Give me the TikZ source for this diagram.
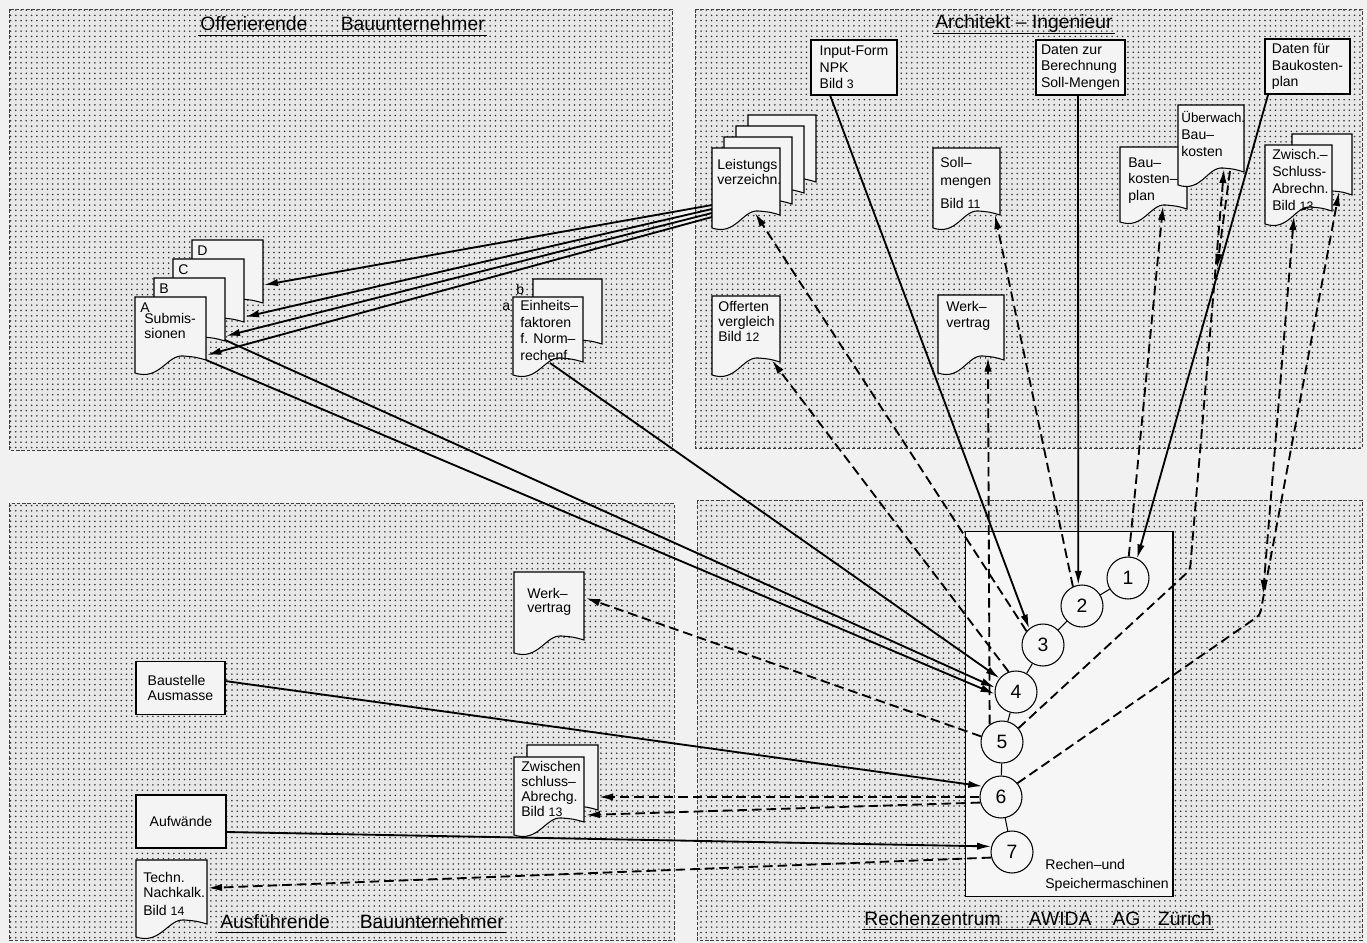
\documentclass[tikz,border=0pt]{standalone}
\usepackage{fontspec}
\setmainfont{Liberation Sans}
\usetikzlibrary{arrows.meta,patterns}
\newcommand\docsheet[4]{%
  \filldraw[docline] (#1,#2) -- (#3,#2) -- (#3,#4-13)
    .. controls ({#1+0.85*(#3-#1)},#4-16) .. ({#1+0.68*(#3-#1)},#4-17)
    .. controls ({#1+0.45*(#3-#1)},#4-18.5) and ({#1+0.35*(#3-#1)},#4+8) .. (#1,#4) -- cycle;}
\tikzset{
  >={Latex[length=8pt,width=4.2pt]},
  docline/.style={fill=gray!9, draw=black, line width=0.6pt},
  doctext/.style={anchor=north west, inner sep=0pt, align=left, font=\fontsize{8}{9.4}\selectfont},
  rectbox/.style={draw=black, fill=gray!9, line width=0.6pt, align=left, inner sep=0pt, font=\fontsize{8}{9.4}\selectfont},
  circ/.style={circle, draw=black, fill=gray!7, line width=0.6pt, minimum size=0.84cm, inner sep=0pt, font=\fontsize{11}{13}\selectfont},
  titletext/.style={anchor=base west, inner sep=0pt, font=\fontsize{11}{13}\selectfont},
  uline/.style={line width=0.7pt},
  panel/.style={draw=black!75, line width=0.5pt, dash pattern=on 2pt off 1pt},
  sline/.style={line width=1.05pt, ->},
  dline/.style={line width=1.05pt, dash pattern=on 5.5pt off 2.8pt, ->},
  link/.style={line width=0.6pt},
}
\begin{document}
\begin{tikzpicture}[x=0.02cm,y=-0.02cm]
\useasboundingbox (0,0) rectangle (1367,943);
\fill[gray!11] (0,0) rectangle (1367,943);
% panels
\foreach \xa/\ya/\xb/\yb in {9/9/672/450,695/9/1362/448,9/503/674/940,697/500/1362/940}{
  \fill[gray!18] (\xa,\ya) rectangle (\xb,\yb);
  \fill[pattern=dots,pattern color=black!80] (\xa,\ya) rectangle (\xb,\yb);
  \draw[panel] (\xa,\ya) rectangle (\xb,\yb);
}
% titles
\node[titletext] (t1) at (200,31) {Offerierende\hspace{19pt}Bauunternehmer};
\draw[uline] ([xshift=-1pt,yshift=-2.6pt]t1.base west) -- ([xshift=1pt,yshift=-2.6pt]t1.base east);
\node[titletext] (t2) at (935,29) {Architekt – Ingenieur};
\draw[uline] ([xshift=-1pt,yshift=-2.6pt]t2.base west) -- ([xshift=1pt,yshift=-2.6pt]t2.base east);
\node[titletext] (t3) at (220,928) {Ausführende\hspace{17pt}Bauunternehmer};
\draw[uline] ([xshift=-1pt,yshift=-2.6pt]t3.base west) -- ([xshift=1pt,yshift=-2.6pt]t3.base east);
\node[titletext] (t4) at (864,925) {Rechenzentrum\hspace{16pt}AWIDA\hspace{12pt}AG\hspace{10pt}Zürich};
\draw[uline] ([xshift=-1pt,yshift=-2.6pt]t4.base west) -- ([xshift=1pt,yshift=-2.6pt]t4.base east);

% ---------- top left: Submissionen stack
\docsheet{192}{240}{263}{316}
\node[doctext] (subD) at (197,245) {D};
\docsheet{173}{259}{244}{335}
\node[doctext] (subC) at (178,264) {C};
\docsheet{154}{278}{225}{354}
\node[doctext] (subB) at (159,283) {B};
\docsheet{135}{297}{206}{373}
\node[doctext] (subAl) at (140,302) {A};
\node[doctext, font=\fontsize{8}{8.5}\selectfont] (subA) at (144,313) {Submis-\\sionen};
% Einheitsfaktoren
\docsheet{533}{279}{602}{357}
\node[doctext] (einb) at (516,284) {b};
\docsheet{513}{297}{583}{375}
\node[doctext] (eina) at (502,303) {a};
\node[doctext, font=\fontsize{8}{9.5}\selectfont] (ein) at (520,300) {Einheits–\\faktoren\\f. Norm–\\rechenf.};

% ---------- top right
\node[rectbox, minimum width=1.72cm, minimum height=1.1cm] (inf) at (854,67.5) {Input-Form\\NPK\\Bild {\fontsize{7}{8}\selectfont 3}};
\node[rectbox, minimum width=1.78cm, minimum height=1.1cm] (dzb) at (1080.5,67.5) {Daten zur\\Berechnung\\Soll-Mengen};
\node[rectbox, minimum width=1.7cm, minimum height=1.1cm] (dfb) at (1307.5,66.5) {Daten für\\Baukosten-\\plan};
% Leistungsverzeichnis stack
\docsheet{748}{115}{816}{195}
\docsheet{736}{126}{804}{206}
\docsheet{724}{137}{792}{217}
\docsheet{712}{148}{780}{228}
\node[doctext, font=\fontsize{8}{8.5}\selectfont] (lv) at (717,159) {Leistungs\\verzeichn.};
% Soll-mengen
\docsheet{933}{148}{1000}{228}
\node[doctext, font=\fontsize{8}{10.2}\selectfont] (soll) at (940,157) {Soll–\\mengen\\[2.8pt]Bild {\fontsize{7}{8}\selectfont 11}};
% Baukostenplan and Ueberwachung
\docsheet{1120}{147}{1187}{222}
\node[doctext, font=\fontsize{8}{9.6}\selectfont] (bkp) at (1128,157) {Bau–\\kosten–\\plan};
\docsheet{1178}{105}{1244}{185}
\node[doctext, font=\fontsize{8}{9.6}\selectfont] (ueb) at (1181,111) {{\fontsize{7.6}{9}\selectfont Überwach.}\\Bau–\\kosten};
% Zwischen-Schluss TR
\docsheet{1292}{134}{1352}{208}
\docsheet{1265}{145}{1332}{224}
\node[doctext, font=\fontsize{8}{9.6}\selectfont] (zwt) at (1272,149) {Zwisch.–\\Schluss-\\Abrechn.\\Bild {\fontsize{7}{8}\selectfont 13}};
% Offerten
\docsheet{712}{296}{780}{375}
\node[doctext, font=\fontsize{8}{8.6}\selectfont] (off) at (718,301) {Offerten\\vergleich\\Bild {\fontsize{7}{8}\selectfont 12}};
% Werkvertrag TR
\docsheet{938}{295}{1004}{373}
\node[doctext, font=\fontsize{8}{9}\selectfont] (wvt) at (946,301) {Werk–\\vertrag};

% ---------- bottom left
\docsheet{514}{572}{584}{653}
\node[doctext, font=\fontsize{8}{8.2}\selectfont] (wvb) at (527,588) {Werk–\\vertrag};
\docsheet{527}{745}{598}{823}
\docsheet{514}{757}{584}{835}
\node[doctext, font=\fontsize{8}{8.5}\selectfont] (zwb) at (521,761) {Zwischen\\schluss–\\Abrechg.\\Bild {\fontsize{7}{8}\selectfont 13}};
\node[rectbox, font=\fontsize{8}{8.6}\selectfont, minimum width=1.78cm, minimum height=1.06cm] (bau) at (180.5,688) {Baustelle\\Ausmasse};
\node[rectbox, minimum width=1.8cm, minimum height=1.06cm] (auf) at (181,821.5) {Aufwände};
\docsheet{136}{860}{207}{937}
\node[doctext, font=\fontsize{8}{8.5}\selectfont] (tnk) at (143,872) {Techn.\\Nachkalk.\\[2pt]Bild {\fontsize{7}{8}\selectfont 14}};

% ---------- Rechenzentrum
\node[draw=black, fill=gray!7, line width=0.6pt, minimum width=4.16cm, minimum height=7.32cm, inner sep=0pt] (rz) at (1069,714) {};
\node[doctext, font=\fontsize{8}{10.8}\selectfont] (rzt) at (1045,859) {Rechen–und\\Speichermaschinen};
\node[circ] (c1) at (1128,578) {1};
\node[circ] (c2) at (1082,606) {2};
\node[circ] (c3) at (1043,645) {3};
\node[circ] (c4) at (1016,692) {4};
\node[circ] (c5) at (1002,742) {5};
\node[circ] (c6) at (1001,797) {6};
\node[circ] (c7) at (1012,852) {7};
\draw[link] (c1) -- (c2);
\draw[link] (c2) -- (c3);
\draw[link] (c3) -- (c4);
\draw[link] (c4) -- (c5);
\draw[link] (c5) -- (c6);
\draw[link] (c6) -- (c7);

% ---------- connection points
\coordinate (lvA) at (712,205);
\coordinate (lvB) at (712,209);
\coordinate (lvC) at (712,213);
\coordinate (lvD) at (712,217);
\coordinate (subD-in) at (264,285);
\coordinate (subC-in) at (245,317);
\coordinate (subB-in) at (226,336);
\coordinate (subA-in) at (207,355);
\coordinate (subA-out) at (206,360);
\coordinate (subB-out) at (225,340);
\coordinate (ein-out) at (550,363);
\coordinate (inf-out) at (830,95);
\coordinate (dzb-out) at (1078,95);
\coordinate (dfb-out) at (1268,95);
\coordinate (lv-in) at (755,213);
\coordinate (soll-in) at (995,215);
\coordinate (off-in) at (772,360.5);
\coordinate (wvt-in) at (988,357.5);
\coordinate (bkp-in) at (1163,206);
\coordinate (ueb-in) at (1224,169);
\coordinate (ueb-out) at (1230,171);
\coordinate (ueb-ret) at (1217,268);
\coordinate (ubend) at (1190,570);
\coordinate (zbend) at (1260,615);
\coordinate (zwtb-in) at (1339,192);
\coordinate (zwtf-in) at (1294,216);
\coordinate (zret) at (1263,594);
\coordinate (wvb-in) at (586,598);
\coordinate (zwb-in1) at (599,797);
\coordinate (zwb-in2) at (586,815);
\coordinate (bau-out) at (225,681);
\coordinate (auf-out) at (226,832);
\coordinate (tnk-in) at (208,888);

% ---------- solid connectors
\draw[sline] (lvA) -- (subD-in);
\draw[sline] (lvB) -- (subC-in);
\draw[sline] (lvC) -- (subB-in);
\draw[sline] (lvD) -- (subA-in);
\draw[sline] (subA-out) -- (c4.185);
\draw[sline] (subB-out) -- (c4.168);
\draw[sline] (ein-out) -- (c4.140);
\draw[sline] (inf-out) -- (c3.130);
\draw[sline] (dzb-out) -- (c2.100);
\draw[sline] (dfb-out) -- (c1.65);
\draw[sline] (bau-out) -- (c6.150);
\draw[sline] (auf-out) -- (c7.165);

% ---------- dashed connectors
\draw[dline] (c3.140) -- (lv-in);
\draw[dline] (c2.115) -- (soll-in);
\draw[dline] (c4.110) -- (off-in);
\draw[dline] (c5.125) -- (wvt-in);
\draw[dline] (c1.88) -- (bkp-in);
\draw[dline, rounded corners=0.08cm] (c5.40) -- (ubend) -- (ueb-in);
\draw[dline] (ueb-out) -- (ueb-ret);
\draw[dline, rounded corners=0.08cm] (c6.40) -- (zbend) -- (zwtb-in);
\draw[dline, <->] (zwtf-in) -- (zret);
\draw[dline] (c5.165) -- (wvb-in);
\draw[dline] (c6.180) -- (zwb-in1);
\draw[dline] (c6.195) -- (zwb-in2);
\draw[dline] (c7.195) -- (tnk-in);
\end{tikzpicture}
\end{document}
